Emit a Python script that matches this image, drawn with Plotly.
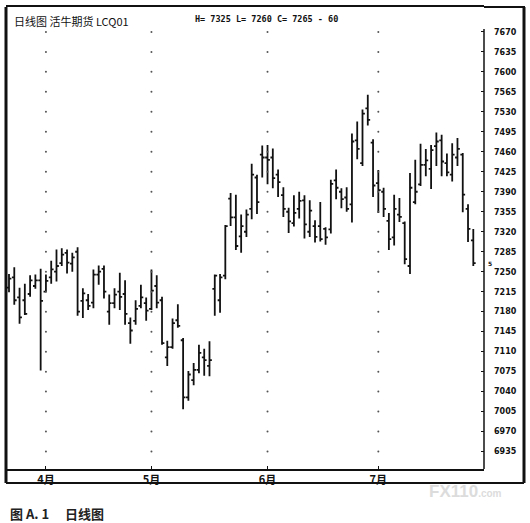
import plotly.graph_objects as go

# ---- data ----
open_ = [7222, 7240, 7205, 7200, 7211, 7225, 7235, 7215, 7240, 7250,
         7265, 7283, 7264, 7285, 7199, 7200, 7196, 7245, 7255, 7180,
         7195, 7215, 7211, 7160, 7164, 7190, 7195, 7185, 7225, 7200,
         7100, 7118, 7165, 7130, 7030, 7060, 7078, 7100, 7085, 7220,
         7200, 7243, 7378, 7345, 7312, 7320, 7360, 7415, 7455, 7450,
         7450, 7420, 7384, 7355, 7335, 7360, 7375, 7320, 7330, 7330,
         7325, 7324, 7410, 7390, 7380, 7368, 7480, 7440, 7536, 7476,
         7405, 7390, 7339, 7310, 7350, 7335, 7260, 7372, 7403, 7437,
         7430, 7470, 7480, 7440, 7420, 7450, 7455, 7360, 7305]
high = [7246, 7258, 7222, 7229, 7244, 7245, 7255, 7245, 7269, 7289,
        7291, 7289, 7283, 7293, 7221, 7211, 7254, 7261, 7261, 7210,
        7221, 7248, 7235, 7170, 7200, 7227, 7205, 7254, 7244, 7206,
        7129, 7168, 7193, 7134, 7076, 7090, 7122, 7115, 7128, 7245,
        7246, 7332, 7388, 7385, 7350, 7359, 7439, 7420, 7471, 7472,
        7466, 7429, 7398, 7362, 7384, 7390, 7384, 7375, 7340, 7372,
        7328, 7411, 7429, 7396, 7398, 7492, 7513, 7534, 7560, 7482,
        7428, 7397, 7353, 7385, 7379, 7338, 7423, 7446, 7474, 7465,
        7472, 7494, 7490, 7457, 7475, 7484, 7458, 7368, 7325]
low = [7214, 7192, 7159, 7174, 7206, 7220, 7077, 7214, 7229, 7233,
       7260, 7247, 7250, 7173, 7169, 7183, 7186, 7227, 7203, 7157,
       7186, 7183, 7157, 7124, 7157, 7186, 7164, 7183, 7186, 7122,
       7085, 7115, 7152, 7009, 7024, 7051, 7072, 7068, 7067, 7173,
       7178, 7237, 7330, 7288, 7283, 7311, 7342, 7351, 7415, 7403,
       7396, 7381, 7346, 7318, 7329, 7343, 7308, 7311, 7301, 7303,
       7297, 7317, 7377, 7361, 7355, 7336, 7447, 7435, 7506, 7381,
       7353, 7346, 7288, 7296, 7337, 7263, 7246, 7368, 7400, 7417,
       7395, 7435, 7417, 7417, 7408, 7435, 7354, 7302, 7260]
close = [7238, 7200, 7170, 7176, 7235, 7235, 7199, 7234, 7254, 7260,
         7280, 7266, 7275, 7180, 7212, 7190, 7245, 7250, 7215, 7195,
         7210, 7206, 7176, 7147, 7185, 7205, 7182, 7217, 7196, 7125,
         7118, 7160, 7155, 7030, 7070, 7078, 7108, 7095, 7095, 7243,
         7240, 7330, 7345, 7295, 7330, 7350, 7420, 7372, 7450, 7446,
         7414, 7407, 7360, 7338, 7353, 7374, 7333, 7357, 7311, 7307,
         7310, 7404, 7397, 7377, 7360, 7478, 7465, 7527, 7516, 7401,
         7393, 7360, 7307, 7360, 7346, 7272, 7397, 7390, 7437, 7445,
         7463, 7478, 7443, 7424, 7455, 7465, 7385, 7325, 7265]
day_index = list(range(len(close)))

month_index = [7, 27, 49, 70]
month_labels = ["4月", "5月", "6月", "7月"]

price_ticks = [7670, 7635, 7600, 7565, 7530, 7495, 7460, 7425, 7390, 7355, 7320,
               7285, 7250, 7215, 7180, 7145, 7110, 7075, 7040, 7005, 6970, 6935]

title_text = "日线图 活牛期货 LCQ01"
caption_fig = "图 A. 1"
caption_name = "日线图"

# ---- layout geometry (pixels) ----
W, H = 530, 523
L, R, T, B = 6, 484, 5, 469


def px(x):
    return (x - L) / (R - L)


def py(y):
    return (B - y) / (B - T)


fig = go.Figure()

# month grid dots at each price level
gx, gy = [], []
for m in month_index:
    for p in price_ticks:
        gx.append(m)
        gy.append(p)
fig.add_trace(go.Scatter(x=gx, y=gy, mode="markers",
                         marker=dict(size=2, color="#555555"),
                         hoverinfo="skip", showlegend=False))

fig.add_trace(go.Ohlc(x=day_index, open=open_, high=high, low=low, close=close,
                      increasing=dict(line=dict(color="#111111", width=1.8)),
                      decreasing=dict(line=dict(color="#111111", width=1.8)),
                      tickwidth=0.45, showlegend=False))

header = "H= %d L= %d C= %d - %d" % (high[-1], low[-1], close[-1], abs(close[-1] - close[-2]))

ann = [
    dict(text=title_text, x=px(12), y=py(19), xref="paper", yref="paper",
         xanchor="left", yanchor="middle", showarrow=False,
         font=dict(family="Noto Sans CJK SC", size=11, color="#111")),
    dict(text=header, x=px(193), y=py(17), xref="paper", yref="paper",
         xanchor="left", yanchor="middle", showarrow=False,
         font=dict(family="DejaVu Sans Mono", size=8.5, color="#111", weight="bold")),
    dict(text="5", x=px(486), y=close[-1], xref="paper", yref="y",
         xanchor="left", yanchor="middle", showarrow=False,
         font=dict(family="DejaVu Sans", size=6, color="#111", weight="bold")),
    dict(text=caption_fig, x=px(8), y=py(514), xref="paper", yref="paper",
         xanchor="left", yanchor="middle", showarrow=False,
         font=dict(family="Noto Sans CJK SC", size=13, color="#222", weight="bold")),
    dict(text=caption_name, x=px(63), y=py(514), xref="paper", yref="paper",
         xanchor="left", yanchor="middle", showarrow=False,
         font=dict(family="Noto Sans CJK SC", size=13, color="#222", weight="bold")),
    dict(text="FX110<span style='font-size:10px'>.com</span>", x=px(465), y=py(492),
         xref="paper", yref="paper", xanchor="center", yanchor="middle", showarrow=False,
         font=dict(family="Liberation Sans", size=17, color="#dcdcdc", weight="bold")),
]

shapes = [
    # outer frame (top part beyond the plot area)
    dict(type="line", xref="paper", yref="paper", x0=1, x1=px(525), y0=1, y1=1,
         line=dict(color="#111", width=2)),
    dict(type="line", xref="paper", yref="paper", x0=px(6), x1=px(524), y0=py(483), y1=py(483),
         line=dict(color="#111", width=2)),
    dict(type="line", xref="paper", yref="paper", x0=px(6), x1=px(6), y0=1, y1=py(483),
         line=dict(color="#111", width=3)),
    dict(type="line", xref="paper", yref="paper", x0=px(524), x1=px(524), y0=1, y1=py(483),
         line=dict(color="#111", width=3)),
    # price axis line
    dict(type="line", xref="paper", yref="y", x0=1, x1=1, y0=price_ticks[0] + 5, y1=6904.5,
         line=dict(color="#111", width=1.5)),
]

dx = 5.276  # pixels per trading day
x0 = 0 - (9 - L) / dx
x1 = (len(close) - 1) + (R - 473.3) / dx
ppp = 735 / 421.5  # price per pixel
y_top = 7670 + (30 - T) * ppp
y_bot = 7670 - (B - 30) * ppp

fig.update_layout(
    width=W, height=H,
    margin=dict(l=L, r=W - R, t=T, b=H - B),
    paper_bgcolor="white", plot_bgcolor="white",
    showlegend=False,
    annotations=ann, shapes=shapes,
    xaxis=dict(range=[x0, x1], tickvals=month_index, ticktext=month_labels,
               ticks="inside", ticklen=3, tickcolor="#111", tickwidth=1,
               showgrid=False, zeroline=False,
               showline=True, mirror=True, linecolor="#111", linewidth=2,
               rangeslider=dict(visible=False), fixedrange=True,
               tickfont=dict(family="Noto Sans CJK SC", size=11, color="#111", weight="bold")),
    yaxis=dict(range=[y_bot, y_top], side="right", tickvals=price_ticks,
               ticktext=[str(v) for v in price_ticks],
               ticks="inside", ticklen=3, tickcolor="#111", tickwidth=1,
               ticklabelstandoff=9,
               showgrid=False, zeroline=False, showline=False, fixedrange=True,
               tickfont=dict(family="DejaVu Sans", size=8, color="#111", weight="bold")),
)

fig.write_html("out.html", config={"displayModeBar": False},
               post_script="document.body.style.margin='0';")
